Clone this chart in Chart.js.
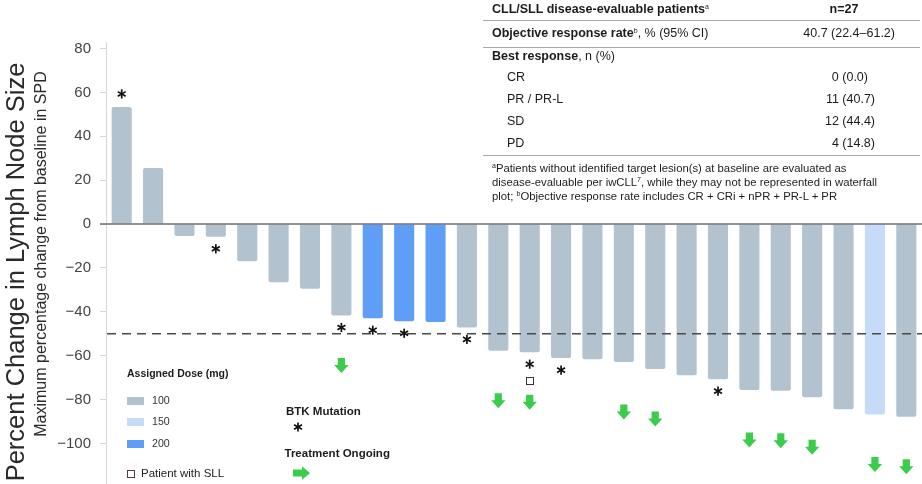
<!DOCTYPE html>
<html>
<head>
<meta charset="utf-8">
<script src="https://cdn.jsdelivr.net/npm/chart.js@4.4.1/dist/chart.umd.min.js"></script>
<style>
  html, body { margin: 0; padding: 0; background: #fff; }
  #wrap { position: relative; width: 922px; height: 484px; overflow: hidden;
          font-family: "Liberation Sans", Arial, sans-serif; color: #1c1c1c; }
  #chart { position: absolute; left: 0; top: 0; }
  .row { position: absolute; height: 16px; line-height: 16px; font-size: 12.5px; white-space: nowrap; }
  .note { position: absolute; left: 492px; height: 14px; line-height: 14px; font-size: 11.3px; white-space: nowrap; }
  .rule { position: absolute; left: 483px; width: 437px; height: 0; border-top: 1px solid #a9a9a9; }
  sup { font-size: 7px; line-height: 0; vertical-align: 4px; }
  .r { text-align: right; }
  .c { text-align: center; }
</style>
</head>
<body>
<div id="wrap">
  <canvas id="chart" width="922" height="484"></canvas>

  <!-- summary table -->
  <div class="row" style="left:492px; top:1px;"><b>CLL/SLL disease-evaluable patients</b><sup>a</sup></div>
  <div class="row c" style="left:804px; width:80px; top:1px;"><b>n=27</b></div>
  <div class="rule" style="top:20px;"></div>

  <div class="row" style="left:492px; top:25px;"><b>Objective response rate</b><sup>b</sup>, % (95% CI)</div>
  <div class="row r" style="left:760px; width:135px; top:25px;">40.7 (22.4–61.2)</div>
  <div class="rule" style="top:47px;"></div>

  <div class="row" style="left:492px; top:48px;"><b>Best response</b>, n (%)</div>
  <div class="row" style="left:507px; top:69px;">CR</div>
  <div class="row r" style="left:760px; width:108px; top:69px;">0 (0.0)</div>
  <div class="row" style="left:507px; top:91px;">PR / PR-L</div>
  <div class="row r" style="left:760px; width:115px; top:91px;">11 (40.7)</div>
  <div class="row" style="left:507px; top:113px;">SD</div>
  <div class="row r" style="left:760px; width:115px; top:113px;">12 (44.4)</div>
  <div class="row" style="left:507px; top:135px;">PD</div>
  <div class="row r" style="left:760px; width:115px; top:135px;">4 (14.8)</div>
  <div class="rule" style="top:155px;"></div>

  <div class="note" style="top:161px;"><sup>a</sup>Patients without identified target lesion(s) at baseline are evaluated as</div>
  <div class="note" style="top:175px;">disease-evaluable per iwCLL<sup>7</sup>, while they may not be represented in waterfall</div>
  <div class="note" style="top:189px;">plot; <sup>b</sup>Objective response rate includes CR + CRi + nPR + PR-L + PR</div>
</div>

<script>
// One entry per patient shown in the waterfall, sorted by best change
const patients = ['P01','P02','P03','P04','P05','P06','P07','P08','P09','P10','P11','P12','P13',
                  'P14','P15','P16','P17','P18','P19','P20','P21','P22','P23','P24','P25','P26'];
const changePct = [53.4, 25.6, -5.4, -5.8, -16.9, -26.5, -29.5, -41.7, -42.9, -44.3, -44.7, -47.1, -57.8,
                   -58.4, -61.1, -61.6, -62.9, -66.1, -68.9, -70.7, -75.7, -76.0, -78.9, -84.4, -86.8, -87.8];
const doseMg = [100, 100, 100, 100, 100, 100, 100, 100, 200, 200, 200, 100, 100,
                100, 100, 100, 100, 100, 100, 100, 100, 100, 100, 100, 150, 100];
const btkMutation = [1, 0, 0, 1, 0, 0, 0, 1, 1, 1, 0, 1, 0,
                     1, 1, 0, 0, 0, 0, 1, 0, 0, 0, 0, 0, 0];
const treatmentOngoing = [0, 0, 0, 0, 0, 0, 0, 1, 0, 0, 0, 0, 1,
                          1, 0, 0, 1, 1, 0, 0, 1, 1, 1, 0, 1, 1];
const patientSLL = [0, 0, 0, 0, 0, 0, 0, 0, 0, 0, 0, 0, 0,
                    1, 0, 0, 0, 0, 0, 0, 0, 0, 0, 0, 0, 0];
const yTicks = [80, 60, 40, 20, 0, -20, -40, -60, -80, -100];
const responseThreshold = -50;

const doseColors = { 100: '#b3c2cf', 150: '#c6dbf7', 200: '#5f9ef7' };
const FONT = '"Liberation Sans", Arial, sans-serif';
const GREEN = '#3ccc4b';

function drawAsterisk(ctx, x, y) {
  ctx.save();
  ctx.strokeStyle = '#111';
  ctx.lineWidth = 1.7;
  ctx.lineCap = 'butt';
  const r = 4.6;
  [90, 30, 150].forEach(deg => {
    const a = deg * Math.PI / 180;
    ctx.beginPath();
    ctx.moveTo(x - r * Math.cos(a), y - r * Math.sin(a));
    ctx.lineTo(x + r * Math.cos(a), y + r * Math.sin(a));
    ctx.stroke();
  });
  ctx.restore();
}

function drawDownArrow(ctx, x, y) {
  ctx.save();
  ctx.fillStyle = GREEN;
  ctx.beginPath();
  ctx.moveTo(x - 3.6, y - 7.5);
  ctx.lineTo(x + 3.6, y - 7.5);
  ctx.lineTo(x + 3.6, y - 0.5);
  ctx.lineTo(x + 7.2, y - 0.5);
  ctx.lineTo(x, y + 7.5);
  ctx.lineTo(x - 7.2, y - 0.5);
  ctx.lineTo(x - 3.6, y - 0.5);
  ctx.closePath();
  ctx.fill();
  ctx.restore();
}

function drawRightArrow(ctx, x, y) {
  ctx.save();
  ctx.fillStyle = GREEN;
  ctx.beginPath();
  ctx.moveTo(x - 8.5, y - 3.4);
  ctx.lineTo(x + 0.5, y - 3.4);
  ctx.lineTo(x + 0.5, y - 6.8);
  ctx.lineTo(x + 8.5, y);
  ctx.lineTo(x + 0.5, y + 6.8);
  ctx.lineTo(x + 0.5, y + 3.4);
  ctx.lineTo(x - 8.5, y + 3.4);
  ctx.closePath();
  ctx.fill();
  ctx.restore();
}

function drawSquare(ctx, x, y, color) {
  ctx.save();
  ctx.strokeStyle = color;
  ctx.lineWidth = 1;
  ctx.strokeRect(Math.round(x - 3.5) + 0.5, Math.round(y - 3.5) + 0.5, 7, 7);
  ctx.restore();
}

// Zero line, -50% reference line and per-patient markers
const waterfallMarks = {
  id: 'waterfallMarks',
  afterDatasetsDraw(chart) {
    const ctx = chart.ctx;
    const { left, right } = chart.chartArea;
    const yScale = chart.scales.y;

    const y50 = yScale.getPixelForValue(responseThreshold);
    ctx.save();
    ctx.strokeStyle = '#4a4a4a';
    ctx.lineWidth = 1.4;
    ctx.setLineDash([9, 6]);
    ctx.beginPath();
    ctx.moveTo(left + 1, y50);
    ctx.lineTo(right, y50);
    ctx.stroke();
    ctx.restore();

    const y0 = yScale.getPixelForValue(0);
    ctx.save();
    ctx.strokeStyle = '#6e6e6e';
    ctx.lineWidth = 1.5;
    ctx.beginPath();
    ctx.moveTo(left - 6, y0);
    ctx.lineTo(right, y0);
    ctx.stroke();
    ctx.restore();

    const meta = chart.getDatasetMeta(0);
    meta.data.forEach((bar, i) => {
      const down = changePct[i] < 0;
      const end = bar.y;
      if (btkMutation[i]) drawAsterisk(ctx, bar.x, down ? end + 12 : end - 13);
      if (patientSLL[i]) drawSquare(ctx, bar.x, end + 28, '#333');
      if (treatmentOngoing[i]) drawDownArrow(ctx, bar.x, end + 50);
    });
  },
  afterDraw(chart) {
    const ctx = chart.ctx;
    // axis titles
    ctx.save();
    ctx.fillStyle = '#2a2a2a';
    ctx.textAlign = 'center';
    ctx.textBaseline = 'middle';
    ctx.translate(17, 272);
    ctx.rotate(-Math.PI / 2);
    ctx.font = '25.5px ' + FONT;
    ctx.fillText('Percent Change in Lymph Node Size', 0, 0);
    ctx.restore();

    ctx.save();
    ctx.fillStyle = '#2a2a2a';
    ctx.textAlign = 'center';
    ctx.textBaseline = 'middle';
    ctx.translate(42, 254);
    ctx.rotate(-Math.PI / 2);
    ctx.font = '16px ' + FONT;
    ctx.fillText('Maximum percentage change from baseline in SPD', 0, 0);
    ctx.restore();

    // legend
    ctx.save();
    ctx.textBaseline = 'middle';
    ctx.textAlign = 'left';
    ctx.fillStyle = '#1c1c1c';
    ctx.font = 'bold 10.5px ' + FONT;
    ctx.fillText('Assigned Dose (mg)', 127, 374);
    [[100, 401], [150, 422], [200, 444]].forEach(([d, yy]) => {
      ctx.fillStyle = doseColors[d];
      ctx.fillRect(127, yy - 4, 17, 8);
      ctx.fillStyle = '#333';
      ctx.font = '10.6px ' + FONT;
      ctx.fillText(String(d), 152, yy);
    });
    drawSquare(ctx, 130.5, 473, '#5a3b3b');
    ctx.fillStyle = '#222';
    ctx.font = '11.5px ' + FONT;
    ctx.fillText('Patient with SLL', 141, 473.5);

    ctx.fillStyle = '#1c1c1c';
    ctx.font = 'bold 11.5px ' + FONT;
    ctx.fillText('BTK Mutation', 286, 411.5);
    drawAsterisk(ctx, 298, 427);
    ctx.fillText('Treatment Ongoing', 284.5, 453.5);
    drawRightArrow(ctx, 301.5, 473);
    ctx.restore();
  }
};

new Chart(document.getElementById('chart'), {
  type: 'bar',
  data: {
    labels: patients,
    datasets: [{
      data: changePct,
      backgroundColor: doseMg.map(d => doseColors[d]),
      borderRadius: 2,
      borderSkipped: 'start',
      barPercentage: 0.64,
      categoryPercentage: 1
    }]
  },
  options: {
    responsive: false,
    animation: false,
    events: [],
    layout: { padding: { top: 42, right: 0, bottom: 0, left: 0 } },
    plugins: { legend: { display: false }, title: { display: false }, tooltip: { enabled: false } },
    scales: {
      x: { display: false, offset: true },
      y: {
        min: -118.5,
        max: 83,
        afterBuildTicks: s => { s.ticks = yTicks.map(v => ({ value: v })); },
        afterFit: s => { s.width = 106; s.paddingTop = 0; s.paddingBottom = 0; },
        ticks: {
          padding: 9,
          color: '#444',
          font: { family: FONT, size: 15 },
          callback: v => (v < 0 ? '\u2212' + Math.abs(v) : String(v))
        },
        grid: { drawOnChartArea: false, drawTicks: true, tickLength: 6, color: '#d6d6d6' },
        border: { display: true, color: '#d6d6d6', width: 1 }
      }
    }
  },
  plugins: [waterfallMarks]
});
</script>
</body>
</html>
